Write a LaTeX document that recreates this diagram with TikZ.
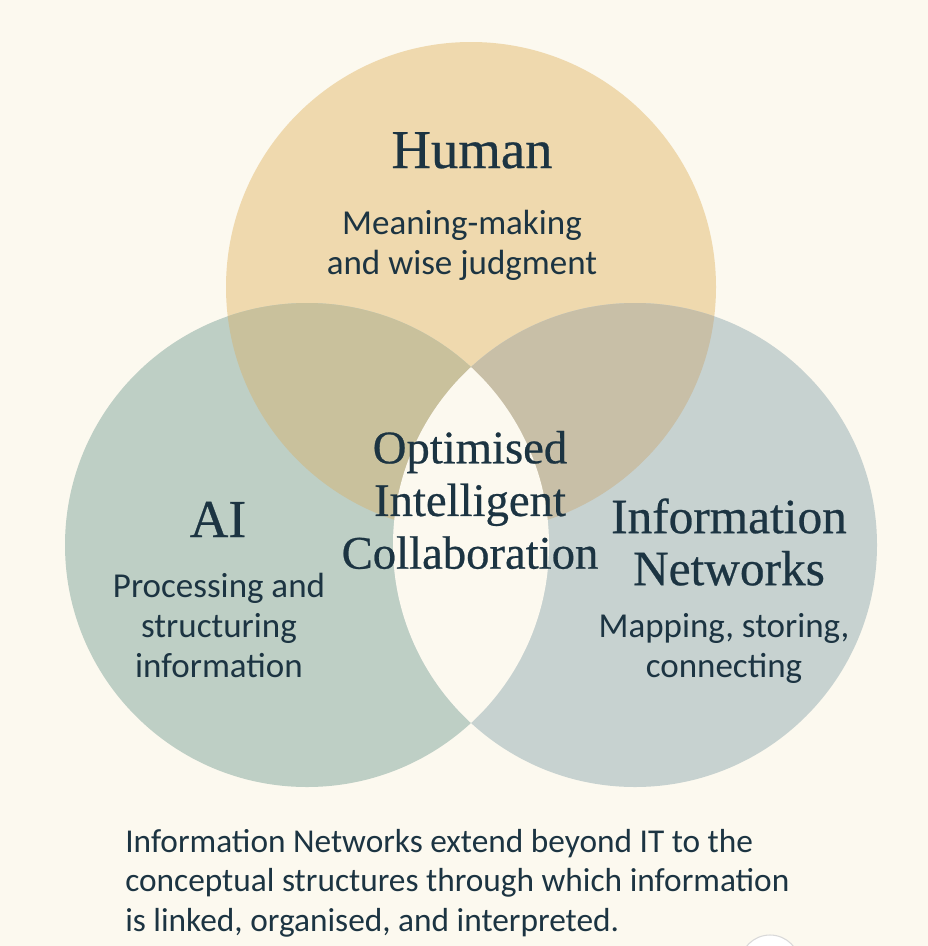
\documentclass[tikz,border=0pt]{standalone}
\usepackage{fontspec}
\setmainfont{Liberation Serif}
\newfontfamily\titlefont[FakeBold=0.5]{Liberation Serif}
\newfontfamily\bodyfont{Carlito}
\definecolor{bgc}{HTML}{FCF9EF}
\definecolor{humanc}{HTML}{EFD9AE}
\definecolor{aic}{HTML}{BECFC5}
\definecolor{infoc}{HTML}{C7D2D0}
\definecolor{humanaic}{HTML}{C9C19C}
\definecolor{humaninfoc}{HTML}{C8BFA7}
\definecolor{inkc}{HTML}{1C3442}
\tikzset{
  titletext/.style={text=inkc, inner sep=0pt, align=center},
  bodytext/.style={text=inkc, inner sep=0pt, align=center,
    font=\bodyfont\fontsize{26.25}{30}\selectfont},
}
\begin{document}
\begin{tikzpicture}[x=0.75pt,y=-0.75pt]
  \useasboundingbox (0,0) rectangle (928,946);
  \clip (0,0) rectangle (928,946);
  \fill[bgc] (0,0) rectangle (928,946);
  % circles
  \coordinate (hc) at (471,287);
  \coordinate (ac) at (307,545);
  \coordinate (ic) at (635,545);
  \fill[humanc] (hc) circle[radius=245];
  \fill[aic] (ac) circle[radius=242];
  \fill[infoc] (ic) circle[radius=242];
  \begin{scope}
    \clip (ac) circle[radius=242];
    \fill[humanaic] (hc) circle[radius=245];
  \end{scope}
  \begin{scope}
    \clip (ic) circle[radius=242];
    \fill[humaninfoc] (hc) circle[radius=245];
  \end{scope}
  \begin{scope}
    \clip (ac) circle[radius=242];
    \fill[bgc] (ic) circle[radius=242];
  \end{scope}
  % titles
  \node[titletext, anchor=base, font=\titlefont\fontsize{41}{45}\selectfont] (human) at (472,168) {Human};
  \node[bodytext] (humanbody) at (462,245) {Meaning-making\\and wise judgment};
  \node[titletext, anchor=base, font=\titlefont\fontsize{40}{44}\selectfont] (ai) at (218,537) {AI};
  \node[bodytext] (aibody) at (219,625) {Processing and\\structuring\\information};
  \node[titletext, font=\titlefont\fontsize{37}{39}\selectfont] (info) at (729,542) {Information\\Networks};
  \node[bodytext] (infobody) at (724,648) {Mapping, storing,\\connecting};
  \node[titletext, font=\titlefont\fontsize{35}{39.5}\selectfont] (center) at (470,500) {Optimised\\Intelligent\\Collaboration};
  % caption
  \node[text=inkc, inner sep=0pt, align=left, anchor=west,
    font=\bodyfont\fontsize{25}{29.6}\selectfont] (caption) at (125,883)
    {Information Networks extend beyond IT to the\\conceptual structures through which information\\is linked, organised, and interpreted.};
  % small mark at bottom right
  \coordinate (mk) at (770,965);
  \filldraw[fill=white, draw=black!15, line width=0.8pt] (mk) circle[radius=30];
\end{tikzpicture}
\end{document}
